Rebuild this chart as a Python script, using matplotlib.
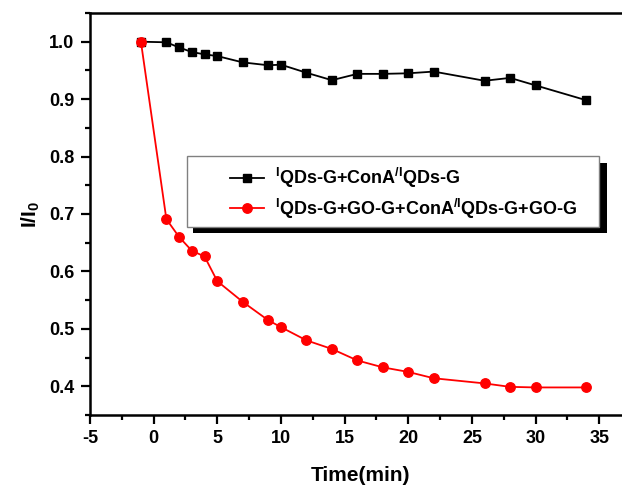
import matplotlib
matplotlib.use('Agg')
import matplotlib.pyplot as plt
from matplotlib.patches import Rectangle
from matplotlib.ticker import MultipleLocator

# data
time_min = [-1, 1, 2, 3, 4, 5, 7, 9, 10, 12, 14, 16, 18, 20, 22, 26, 28, 30, 34]
ratio_conA = [1.000, 0.999, 0.990, 0.982, 0.978, 0.975, 0.964, 0.959, 0.960, 0.946,
              0.933, 0.944, 0.944, 0.945, 0.948, 0.932, 0.937, 0.924, 0.898]
ratio_go = [1.000, 0.691, 0.660, 0.636, 0.626, 0.583, 0.547, 0.515, 0.503, 0.480,
            0.465, 0.445, 0.433, 0.425, 0.414, 0.405, 0.399, 0.398, 0.398]
label_conA = r'$^{I}$QDs-G+ConA$^{/I}$QDs-G'
label_go = r'$^{I}$QDs-G+GO-G+ConA$^{/I}$QDs-G+GO-G'

# font setup
plt.rcParams['font.family'] = ['Liberation Sans', 'DejaVu Sans']
plt.rcParams['font.weight'] = 'bold'
plt.rcParams['axes.unicode_minus'] = False
plt.rcParams['mathtext.fontset'] = 'custom'
plt.rcParams['mathtext.rm'] = 'Liberation Sans:bold'
plt.rcParams['mathtext.bf'] = 'Liberation Sans:bold'
plt.rcParams['mathtext.it'] = 'Liberation Sans:bold'
plt.rcParams['mathtext.default'] = 'bf'

W, H = 622, 490
fig = plt.figure(figsize=(W / 100, H / 100), dpi=100)
ax = fig.add_axes([90 / W, 75 / H, 541 / W, 402 / H])

line1, = ax.plot(time_min, ratio_conA, color='black', lw=1.3, marker='s', ms=5.5)
line2, = ax.plot(time_min, ratio_go, color='red', lw=1.3, marker='o', ms=6.8)

ax.set_xlim(-5, 37.5)
ax.set_ylim(0.35, 1.05)
ax.xaxis.set_major_locator(MultipleLocator(5))
ax.xaxis.set_minor_locator(MultipleLocator(2.5))
ax.yaxis.set_major_locator(MultipleLocator(0.1))
ax.yaxis.set_minor_locator(MultipleLocator(0.05))
ax.tick_params(which='major', direction='out', length=6.5, width=1.6, labelsize=13, pad=4)
ax.tick_params(which='minor', direction='out', length=3.5, width=1.6)
ax.tick_params(axis='y', which='major', pad=5)
ax.spines['right'].set_visible(False)
for s in ['left', 'bottom', 'top']:
    ax.spines[s].set_linewidth(1.8)

ax.set_xlabel('Time(min)', fontsize=15, fontweight='bold', labelpad=14)
ax.set_ylabel(r'I/I$_0$', fontsize=15, fontweight='bold', labelpad=5)

# legend frame with a black drop shadow
fig.add_artist(Rectangle((193 / W, 1 - 233 / H), 414 / W, 70 / H,
                         transform=fig.transFigure, facecolor='black',
                         edgecolor='none', zorder=1))
fig.add_artist(Rectangle((187 / W, 1 - 227 / H), 412 / W, 71 / H,
                         transform=fig.transFigure, facecolor='white',
                         edgecolor='#808080', lw=1.0, zorder=2))
fig.legend([line1, line2], [label_conA, label_go], loc='center left',
           bbox_to_anchor=(230 / W, 1 - 193.5 / H), frameon=False,
           fontsize=13, handlelength=1.9, handletextpad=0.6,
           labelspacing=0.35, borderpad=0, borderaxespad=0)

fig.savefig('out.png', dpi=100)
